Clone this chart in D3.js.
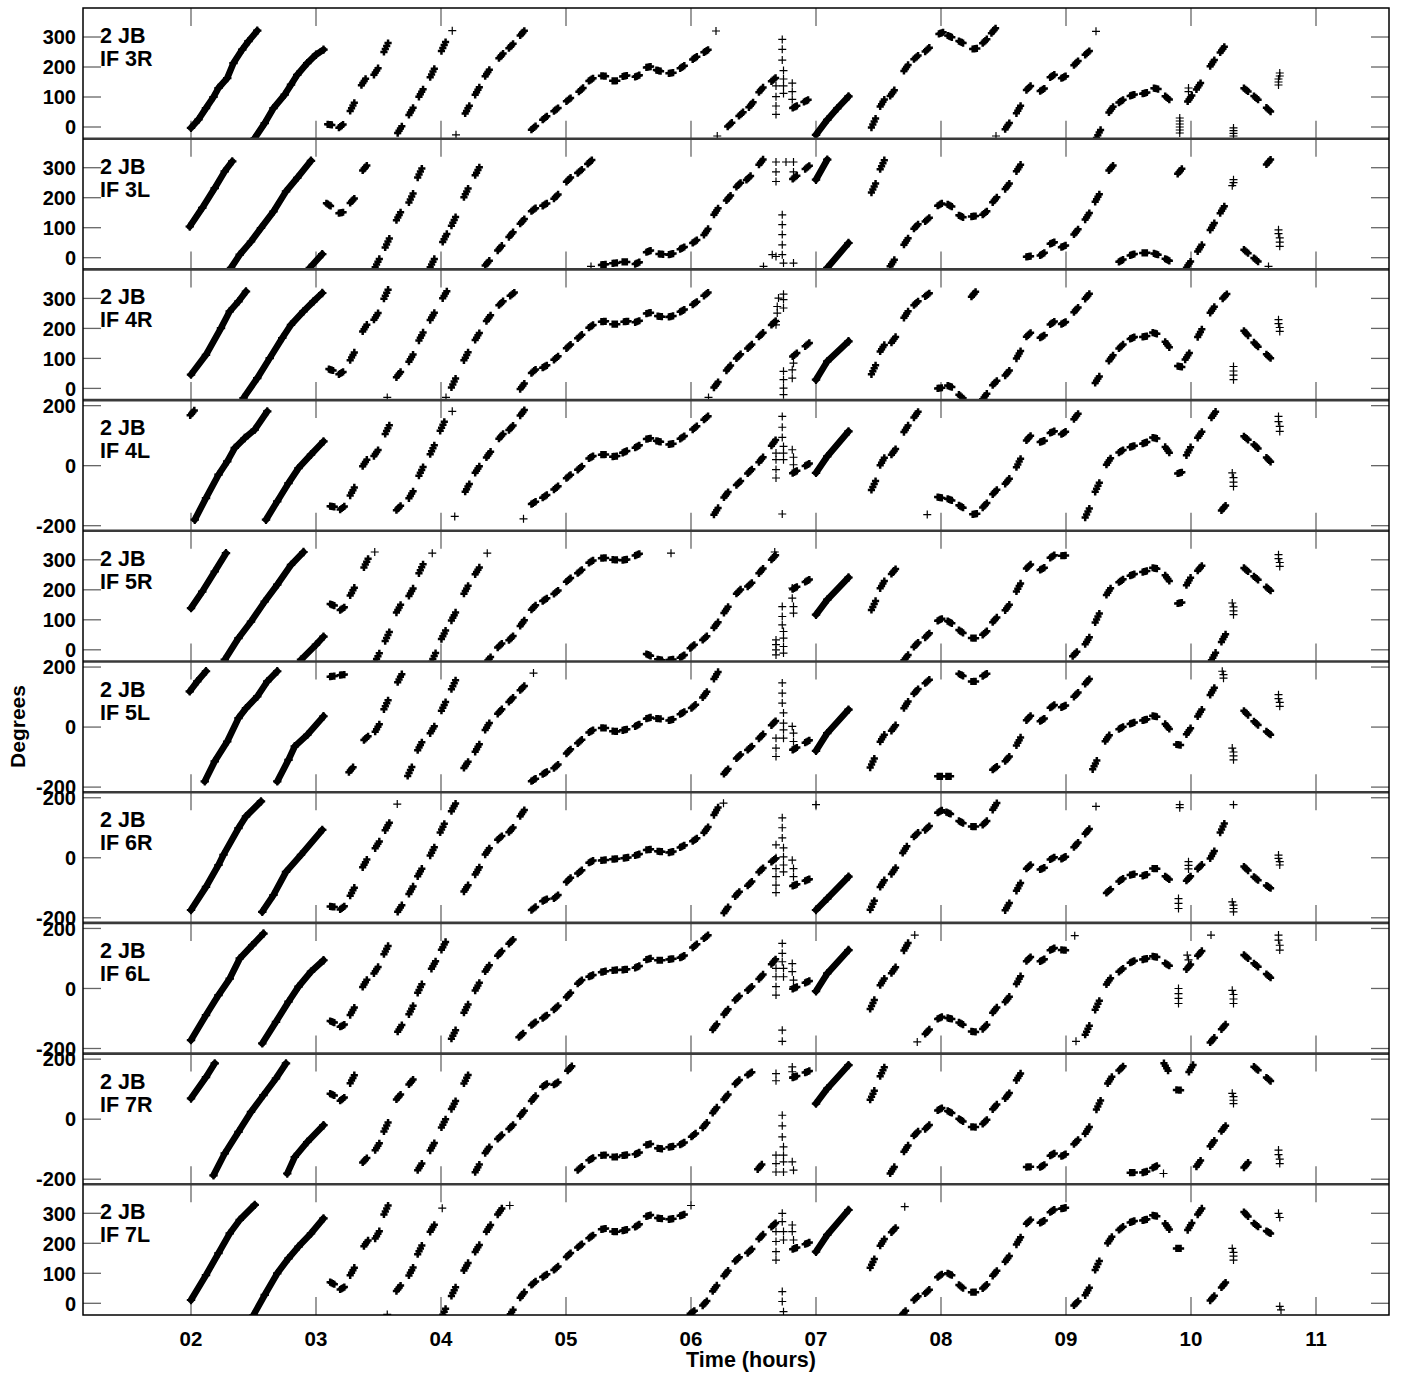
<!DOCTYPE html>
<html>
<head>
<meta charset="utf-8">
<script src="https://cdn.jsdelivr.net/npm/d3@7"></script>
<style>
  body { margin: 0; background: #fff; }
  text { font-family: "Liberation Sans", Arial, Helvetica, sans-serif; font-weight: bold; fill: #000; }
</style>
</head>
<body>
<svg id="chart" width="1401" height="1373"></svg>
<script>

// hour ticks + y ticks
var hourTicks = [2, 3, 4, 5, 6, 7, 8, 9, 10, 11];
var ticks360 = [0, 100, 200, 300];
var ticks180 = [-200, 0, 200];

// ---- IF 3R ----
var dense3R = [
  [[2.00,-3],[2.06,25],[2.12,63],[2.18,100],[2.22,130],[2.29,163],[2.34,213],[2.41,258],[2.46,286],[2.53,321]],
  [[2.51,-37],[2.59,13],[2.66,63],[2.75,108],[2.80,141],[2.85,174],[2.93,213],[3.00,241],[3.06,258]],
  [[7.00,-26],[7.09,24],[7.17,62],[7.26,102]]
];
var scans3R = [[3.11,8],[3.20,3],[3.29,67],[3.38,150],[3.48,185],[3.56,265],
  [3.67,-9],[3.76,52],[3.84,113],[3.93,180],[4.02,268],
  [4.21,58],[4.29,120],[4.37,180],[4.48,237],[4.56,270],[4.65,313],
  [4.74,-3],[4.83,30],[4.92,58],[5.02,91],[5.12,124],[5.20,158],[5.30,170],[5.39,154],[5.47,170],[5.57,170],[5.66,200],[5.74,188],[5.84,180],[5.93,200],[6.03,230],[6.12,253],
  [6.31,8],[6.40,43],[6.48,74],[6.56,124],[6.66,158],[6.83,67],[6.92,87],
  [7.46,13],[7.53,80],[7.61,113],[7.72,197],[7.80,232],[7.89,258],[8.00,313],[8.07,302],[8.16,283],[8.27,261],[8.35,286],[8.42,321],
  [8.53,3],[8.62,58],[8.70,130],[8.81,124],[8.89,170],[8.98,166],[9.08,213],[9.17,247],
  [9.26,-23],[9.36,58],[9.44,86],[9.53,106],[9.63,113],[9.72,128],[9.81,97],
  [9.99,95],[10.06,136],[10.17,213],[10.25,258],[10.44,124],[10.52,97],[10.62,58]];
var singles3R = [[4.09,321],[4.12,-26],[6.20,320],[6.21,-30],
  [6.68,137],[6.68,101],[6.68,70],[6.68,42],
  [6.73,292],[6.73,259],[6.73,223],[6.74,188],[6.74,160],[6.74,137],[6.74,112],
  [6.81,146],[6.81,118],[6.81,92],[8.44,-30],[9.24,319],
  [9.91,30],[9.91,20],[9.91,10],[9.91,0],[9.91,-10],[9.91,-20],[9.98,130],[9.98,118],
  [10.34,-3],[10.34,-12],[10.34,-21],[10.34,-30],
  [10.70,140],[10.70,150],[10.70,160],[10.71,170],[10.71,180]];

// ---- IF 3L ----
var dense3L = [
  [[1.99,104],[2.09,166],[2.19,232],[2.27,288],[2.33,321]],
  [[2.32,-34],[2.39,10],[2.48,54],[2.56,99],[2.66,154],[2.76,221],[2.85,266],[2.96,323]],
  [[2.95,-34],[3.05,12]],
  [[7.00,260],[7.09,327]],
  [[7.09,-34],[7.26,49]]
];
var scans3L = [[3.10,177],[3.20,150],[3.29,190],[3.39,299],
  [3.49,-18],[3.57,49],[3.66,138],[3.76,199],[3.83,282],
  [3.93,-18],[4.03,66],[4.10,121],[4.20,216],[4.29,288],
  [4.37,-18],[4.47,32],[4.56,77],[4.65,121],[4.74,160],[4.83,177],[4.92,204],[5.02,260],[5.11,288],[5.19,319],
  [5.30,-23],[5.39,-18],[5.47,-14],[5.57,-18],[5.66,21],[5.76,12],[5.84,12],[5.93,32],[6.03,54],[6.12,86],[6.20,154],[6.30,199],[6.38,243],[6.46,266],[6.56,319],
  [6.83,268],[6.93,301],[7.46,232],[7.53,310],
  [7.61,-18],[7.72,54],[7.80,104],[7.89,127],[7.99,177],[8.07,174],[8.16,138],[8.26,138],[8.35,149],[8.43,193],[8.53,238],[8.62,299],
  [8.70,4],[8.81,12],[8.89,49],[8.98,38],[9.08,86],[9.17,138],[9.25,199],[9.36,299],
  [9.44,-10],[9.53,10],[9.63,16],[9.72,12],[9.81,-7],
  [9.91,288],[9.98,-23],[10.07,32],[10.17,104],[10.25,160],[10.44,21],[10.52,-7],[10.62,319]];
var singles3L = [[5.20,-29],[6.68,319],[6.76,319],[6.82,319],[6.68,286],[6.82,286],[6.68,254],
  [6.58,-29],[6.65,10],[6.68,4],
  [6.73,143],[6.73,110],[6.73,77],[6.73,43],[6.73,10],[6.74,-18],[6.82,-18],
  [10.33,240],[10.34,250],[10.34,260],[10.62,-29],
  [10.70,93],[10.70,80],[10.71,66],[10.71,52],[10.71,38]];

// ---- IF 4R ----
var dense4R = [
  [[2.00,46],[2.12,112],[2.24,201],[2.31,257],[2.38,290],[2.44,323]],
  [[2.42,-32],[2.53,34],[2.63,101],[2.73,168],[2.80,212],[2.90,257],[2.98,290],[3.05,318]],
  [[7.00,29],[7.09,90],[7.26,157]]
];
var scans4R = [[3.12,62],[3.20,51],[3.29,107],[3.39,201],[3.48,240],[3.56,314],
  [3.66,46],[3.76,101],[3.84,173],[3.93,240],[4.03,312],
  [4.10,18],[4.20,107],[4.29,173],[4.38,234],[4.48,284],[4.57,314],
  [4.65,7],[4.74,57],[4.83,73],[4.92,101],[5.02,140],[5.11,173],[5.20,207],[5.30,223],[5.39,214],[5.48,223],[5.57,223],[5.66,251],[5.75,240],[5.84,240],[5.93,259],[6.03,284],[6.12,314],
  [6.20,12],[6.30,68],[6.38,107],[6.47,140],[6.56,179],[6.66,218],[6.83,112],[6.93,146],
  [7.46,62],[7.53,134],[7.62,162],[7.72,246],[7.80,284],[7.89,312],
  [7.99,1],[8.07,7],[8.16,-27],[8.26,314],[8.35,-27],[8.43,18],[8.53,51],[8.62,112],[8.70,179],[8.81,173],[8.89,218],[8.98,218],[9.08,262],[9.17,307],
  [9.25,29],[9.36,101],[9.44,140],[9.53,168],[9.63,173],[9.71,184],[9.81,146],[9.91,73],[9.97,107],[10.07,184],[10.17,262],[10.27,307],
  [10.44,184],[10.52,146],[10.62,107]];
var singles4R = [[3.57,-30],[4.04,-30],[6.14,-30],
  [6.68,212],[6.68,223],[6.69,251],[6.69,273],[6.70,301],[6.74,314],[6.74,296],[6.74,268],
  [6.74,-21],[6.74,1],[6.74,29],[6.74,57],[6.81,34],[6.81,62],[6.82,84],
  [10.34,73],[10.34,58],[10.34,44],[10.34,29],
  [10.70,229],[10.70,216],[10.71,203],[10.71,190]];

// ---- IF 4L ----
var dense4L = [
  [[2.03,-180],[2.12,-108],[2.22,-30],[2.29,14],[2.35,59],[2.43,92],[2.51,120],[2.61,181]],
  [[2.60,-180],[2.69,-119],[2.78,-58],[2.86,-8],[2.96,37],[3.06,81]],
  [[7.00,-24],[7.09,31],[7.26,114]]
];
var scans4L = [[2.01,176],
  [3.13,-136],[3.21,-141],[3.29,-86],[3.39,9],[3.48,42],[3.57,120],
  [3.66,-141],[3.76,-97],[3.84,-19],[3.93,53],[4.01,131],
  [4.21,-74],[4.29,-13],[4.38,37],[4.48,98],[4.56,126],[4.65,176],
  [4.74,-124],[4.83,-102],[4.92,-74],[5.02,-36],[5.11,-8],[5.20,28],[5.30,37],[5.39,31],[5.47,46],[5.57,64],[5.66,90],[5.74,81],[5.84,72],[5.93,94],[6.03,126],[6.12,159],
  [6.20,-152],[6.28,-97],[6.38,-58],[6.47,-19],[6.56,20],[6.66,76],[6.83,-21],[6.93,3],
  [7.46,-66],[7.53,14],[7.62,46],[7.72,123],[7.80,170],
  [7.99,-106],[8.07,-113],[8.16,-136],[8.27,-161],[8.35,-132],[8.43,-88],[8.53,-52],[8.62,9],[8.70,92],[8.81,81],[8.89,112],[8.98,109],[9.08,164],
  [9.17,-158],[9.25,-72],[9.34,14],[9.44,48],[9.53,64],[9.63,76],[9.71,92],[9.81,53],[9.91,-24],[9.98,48],[10.07,103],[10.18,170],
  [10.26,-141],[10.44,92],[10.52,64],[10.62,20]];
var singles4L = [[4.09,181],[4.11,-169],[4.66,-177],
  [6.68,42],[6.68,20],[6.68,-13],[6.68,-41],
  [6.73,164],[6.73,128],[6.73,94],[6.74,64],[6.74,42],[6.74,20],
  [6.81,53],[6.82,28],[6.82,3],[6.73,-161],[7.89,-163],
  [10.33,-24],[10.34,-40],[10.34,-55],[10.34,-69],
  [10.70,164],[10.70,147],[10.71,131],[10.71,114]];

// ---- IF 5R ----
var dense5R = [
  [[2.00,139],[2.09,194],[2.19,261],[2.28,322]],
  [[2.27,-33],[2.38,39],[2.48,94],[2.59,161],[2.69,217],[2.80,283],[2.90,326]],
  [[2.88,-33],[3.00,17],[3.06,44]],
  [[7.00,117],[7.09,167],[7.26,241]]
];
var scans5R = [[3.13,150],[3.21,137],[3.29,194],[3.40,289],
  [3.49,-26],[3.57,44],[3.66,137],[3.76,192],[3.84,270],
  [3.94,-26],[4.02,50],[4.10,111],[4.20,200],[4.29,263],
  [4.38,-33],[4.47,14],[4.56,39],[4.65,89],[4.74,141],[4.83,167],[4.92,192],[5.02,233],[5.11,261],[5.20,294],[5.30,306],[5.39,300],[5.47,300],[5.57,317],
  [5.66,-17],[5.75,-33],[5.84,-33],[5.93,-22],[6.01,11],[6.11,39],[6.20,83],[6.28,133],[6.38,194],[6.47,217],[6.56,263],[6.66,308],
  [6.83,206],[6.93,230],[7.46,148],[7.53,217],[7.62,261],
  [7.72,-26],[7.80,17],[7.89,48],[7.99,100],[8.07,92],[8.16,61],[8.26,39],[8.35,56],[8.43,100],[8.53,141],[8.62,208],[8.70,278],[8.81,270],[8.89,311],[8.98,314],
  [9.07,-14],[9.17,30],[9.25,106],[9.34,194],[9.44,230],[9.53,250],[9.63,261],[9.71,272],[9.81,239],[9.91,156],[9.98,228],[10.07,272],
  [10.18,-22],[10.26,39],[10.44,267],[10.52,239],[10.62,203]];
var singles5R = [[3.47,326],[3.93,322],[4.37,322],[5.84,322],[6.67,326],
  [6.68,33],[6.68,17],[6.68,0],[6.68,-17],
  [6.73,144],[6.73,111],[6.73,83],[6.74,61],[6.74,39],[6.74,11],[6.74,-11],
  [6.81,206],[6.81,172],[6.82,144],[6.82,122],
  [10.33,156],[10.34,143],[10.34,130],[10.34,117],
  [10.70,317],[10.70,304],[10.71,291],[10.71,278]];

// ---- IF 5L ----
var dense5L = [
  [[1.99,119],[2.05,152],[2.12,186]],
  [[2.11,-181],[2.19,-114],[2.29,-48],[2.38,30],[2.44,63],[2.53,102],[2.61,152],[2.69,186]],
  [[2.69,-181],[2.78,-109],[2.83,-64],[2.93,-26],[3.06,36]],
  [[7.00,-79],[7.09,-20],[7.26,58]]
];
var scans5L = [[3.13,169],[3.21,174],[3.28,-142],[3.40,-37],[3.49,-3],[3.56,74],[3.67,163],
  [3.75,-148],[3.83,-64],[3.93,-9],[4.02,69],[4.10,141],
  [4.20,-126],[4.29,-70],[4.37,2],[4.47,52],[4.56,91],[4.65,130],
  [4.74,-176],[4.83,-153],[4.92,-131],[5.02,-81],[5.11,-48],[5.20,-14],[5.30,-3],[5.39,-14],[5.47,-9],[5.57,6],[5.66,30],[5.74,28],[5.84,24],[5.93,47],[6.02,69],[6.11,108],[6.20,172],
  [6.28,-148],[6.38,-98],[6.47,-70],[6.56,-31],[6.66,13],[6.83,-72],[6.93,-48],
  [7.45,-120],[7.53,-37],[7.62,-3],[7.72,74],[7.80,119],[7.89,152],
  [7.99,-164],[8.06,-164],[8.16,174],[8.26,152],[8.35,174],
  [8.43,-137],[8.53,-106],[8.62,-48],[8.70,30],[8.81,24],[8.89,69],[8.98,69],[9.08,108],[9.17,152],
  [9.23,-126],[9.33,-37],[9.44,-3],[9.53,13],[9.63,24],[9.71,36],[9.81,2],[9.90,-59],[9.98,-14],[10.07,47],[10.17,119],
  [10.44,47],[10.52,13],[10.62,-20]];
var singles5L = [[4.74,180],
  [6.68,-37],[6.68,-70],[6.68,-98],
  [6.73,147],[6.73,113],[6.73,80],[6.74,47],[6.74,13],[6.74,-9],[6.74,-37],
  [6.81,2],[6.82,-20],[6.82,-48],
  [10.25,186],[10.26,175],[10.26,163],
  [10.33,-70],[10.34,-83],[10.34,-96],[10.34,-109],
  [10.70,108],[10.70,95],[10.71,82],[10.71,69]];

// ---- IF 6R ----
var dense6R = [
  [[2.00,-174],[2.12,-97],[2.22,-24],[2.26,10],[2.38,99],[2.44,138],[2.56,188]],
  [[2.57,-180],[2.66,-124],[2.76,-47],[2.88,10],[3.05,93]],
  [[7.00,-174],[7.09,-136],[7.26,-63]]
];
var scans6R = [[3.13,-163],[3.21,-167],[3.29,-113],[3.39,-19],[3.49,43],[3.57,104],
  [3.67,-169],[3.76,-108],[3.83,-49],[3.93,21],[4.01,99],[4.10,168],
  [4.20,-102],[4.29,-44],[4.37,21],[4.47,66],[4.56,93],[4.65,149],
  [4.74,-169],[4.83,-141],[4.92,-130],[5.02,-74],[5.11,-47],[5.20,-13],[5.30,-8],[5.39,-4],[5.48,0],[5.57,10],[5.66,27],[5.75,21],[5.84,19],[5.93,38],[6.03,60],[6.12,93],[6.20,155],
  [6.28,-174],[6.37,-121],[6.47,-86],[6.56,-41],[6.66,-8],[6.83,-91],[6.93,-74],
  [7.45,-158],[7.53,-86],[7.62,-44],
  [7.71,27],[7.80,77],[7.89,99],[7.99,154],[8.06,149],[8.16,119],[8.26,104],[8.35,116],[8.43,171],
  [8.53,-163],[8.62,-97],[8.70,-30],[8.81,-36],[8.89,-2],[8.98,0],[9.08,43],[9.17,88],
  [9.34,-111],[9.44,-74],[9.53,-56],[9.63,-58],[9.71,-36],[9.81,-67],[9.98,-69],[10.07,-30],[10.17,10],[10.25,99],
  [10.44,-36],[10.52,-69],[10.62,-97]];
var singles6R = [[3.65,179],[6.26,182],[7.00,177],[9.24,171],
  [6.68,43],[6.68,0],[6.68,-36],[6.68,-63],[6.68,-91],[6.68,-116],
  [6.73,133],[6.73,100],[6.73,66],[6.74,33],[6.74,3],[6.74,-24],[6.74,-47],
  [6.81,-8],[6.82,-36],[6.82,-63],
  [9.90,-136],[9.90,-152],[9.90,-169],[9.91,177],[9.91,167],
  [9.98,-13],[9.98,-25],[9.98,-37],[10.34,177],
  [10.33,-147],[10.34,-158],[10.34,-169],[10.34,-180],
  [10.70,9],[10.70,-2],[10.71,-13],[10.71,-24]];

// ---- IF 6L ----
var dense6L = [
  [[2.00,-172],[2.12,-89],[2.22,-22],[2.31,33],[2.39,100],[2.49,144],[2.58,183]],
  [[2.57,-183],[2.68,-111],[2.78,-44],[2.86,6],[2.96,56],[3.06,94]],
  [[7.00,-9],[7.09,50],[7.26,128]]
];
var scans6L = [[3.13,-111],[3.21,-124],[3.29,-76],[3.39,17],[3.48,61],[3.56,128],
  [3.67,-133],[3.76,-72],[3.83,0],[3.94,78],[4.02,142],
  [4.10,-153],[4.20,-67],[4.29,6],[4.37,67],[4.47,117],[4.56,156],
  [4.64,-156],[4.74,-117],[4.83,-94],[4.92,-64],[5.02,-22],[5.11,22],[5.20,42],[5.30,56],[5.39,61],[5.47,63],[5.57,72],[5.66,98],[5.75,94],[5.84,98],[5.93,106],[6.03,142],[6.12,172],
  [6.19,-128],[6.28,-78],[6.37,-32],[6.47,0],[6.56,39],[6.66,89],[6.83,2],[6.93,22],
  [7.45,-53],[7.53,22],[7.62,61],[7.72,139],
  [7.89,-144],[7.99,-98],[8.07,-100],[8.16,-117],[8.26,-144],[8.35,-128],[8.43,-72],[8.53,-36],[8.62,28],[8.70,98],[8.81,94],[8.89,131],[8.98,128],
  [9.17,-139],[9.25,-56],[9.34,24],[9.44,61],[9.53,89],[9.63,98],[9.71,106],[9.81,80],[9.98,72],[10.07,117],
  [10.17,-172],[10.26,-128],[10.44,106],[10.52,78],[10.62,42]];
var singles6L = [[7.79,178],[7.81,-178],[9.07,176],[9.08,-176],[10.16,178],
  [6.68,67],[6.68,39],[6.68,6],[6.68,-22],
  [6.73,150],[6.73,117],[6.73,89],[6.74,67],[6.74,39],
  [6.81,83],[6.81,56],[6.82,28],[6.82,6],[6.73,-139],[6.73,-176],
  [9.97,111],[9.98,95],[9.90,0],[9.90,-17],[9.90,-33],[9.90,-50],
  [10.33,-6],[10.34,-20],[10.34,-35],[10.34,-50],
  [10.70,178],[10.70,161],[10.71,144],[10.71,128]];

// ---- IF 7R ----
var dense7R = [
  [[2.00,69],[2.12,140],[2.19,186]],
  [[2.18,-187],[2.27,-114],[2.38,-42],[2.48,24],[2.58,80],[2.68,136],[2.76,186]],
  [[2.77,-181],[2.83,-126],[2.93,-76],[3.06,-20]],
  [[7.00,52],[7.09,102],[7.26,180]]
];
var scans7R = [[3.13,82],[3.21,67],[3.29,133],
  [3.39,-137],[3.49,-92],[3.56,-26],[3.66,74],[3.76,124],
  [3.83,-159],[3.93,-92],[4.02,-14],[4.10,47],[4.20,133],
  [4.29,-164],[4.37,-103],[4.47,-59],[4.56,-26],[4.65,19],[4.74,69],[4.83,113],[4.92,119],[5.03,169],
  [5.11,-164],[5.20,-133],[5.30,-120],[5.39,-126],[5.47,-120],[5.57,-114],[5.66,-84],[5.75,-98],[5.84,-92],[5.93,-81],[6.02,-53],[6.11,-20],[6.19,30],[6.28,74],[6.37,124],[6.47,152],
  [6.55,-159],[6.83,141],[6.93,158],[7.45,80],[7.53,158],
  [7.61,-170],[7.72,-98],[7.80,-48],[7.89,-26],[7.99,33],[8.07,24],[8.16,-3],[8.26,-26],[8.35,-9],[8.43,41],[8.53,78],[8.62,141],
  [8.70,-159],[8.81,-156],[8.89,-118],[8.98,-120],[9.08,-76],[9.17,-37],[9.26,47],[9.35,130],[9.44,169],
  [9.53,-178],[9.63,-176],[9.71,-159],
  [9.80,174],[9.90,97],[10.00,169],
  [10.06,-148],[10.17,-81],[10.26,-31],[10.44,-153],[10.52,169],[10.62,133]];
var singles7R = [[9.78,-181],
  [6.68,152],[6.68,128],[6.68,-120],[6.68,-148],[6.68,-176],
  [6.73,13],[6.73,-22],[6.73,-59],[6.74,-92],[6.74,-120],[6.74,-142],[6.74,-176],
  [6.81,174],[6.81,158],[6.82,141],[6.81,-142],[6.82,-170],
  [10.33,86],[10.34,75],[10.34,63],[10.34,52],
  [10.70,-103],[10.70,-118],[10.71,-133],[10.71,-148]];

// ---- IF 7L ----
var dense7L = [
  [[2.00,11],[2.12,94],[2.22,167],[2.31,233],[2.39,278],[2.51,328]],
  [[2.50,-39],[2.59,28],[2.69,100],[2.78,150],[2.86,189],[2.96,233],[3.06,283]],
  [[7.00,172],[7.09,228],[7.26,311]]
];
var scans7L = [[3.13,67],[3.21,50],[3.29,106],[3.40,200],[3.49,228],[3.56,311],
  [3.66,50],[3.76,106],[3.83,178],[3.93,250],
  [4.02,-33],[4.10,39],[4.20,122],[4.29,183],[4.38,250],[4.47,306],
  [4.56,-33],[4.65,28],[4.74,67],[4.83,92],[4.92,117],[5.02,161],[5.11,192],[5.20,222],[5.30,248],[5.39,239],[5.47,244],[5.57,259],[5.66,292],[5.75,283],[5.84,281],[5.93,294],
  [6.01,-30],[6.11,0],[6.19,50],[6.28,100],[6.37,147],[6.47,174],[6.56,222],[6.66,261],
  [6.83,183],[6.93,200],[7.45,133],[7.53,203],[7.62,244],
  [7.70,-33],[7.80,17],[7.89,39],[7.99,92],[8.07,97],[8.16,56],[8.26,37],[8.35,56],[8.43,100],[8.53,148],[8.62,208],[8.70,272],[8.81,272],[8.89,308],[8.98,317],
  [9.08,0],[9.17,39],[9.25,126],[9.35,211],[9.44,250],[9.53,272],[9.63,278],[9.71,292],[9.81,256],[9.90,183],[9.99,256],[10.07,306],
  [10.17,17],[10.26,61],[10.44,297],[10.52,261],[10.62,237]];
var singles7L = [[3.57,-37],[4.01,317],[4.55,326],[6.00,326],[7.71,322],
  [6.68,239],[6.68,206],[6.68,172],[6.68,144],
  [6.73,300],[6.73,272],[6.74,239],[6.74,211],
  [6.81,261],[6.81,239],[6.82,211],
  [6.73,39],[6.73,6],[6.74,-28],
  [10.33,183],[10.34,170],[10.34,157],[10.34,144],
  [10.70,300],[10.71,286],[10.71,-10],[10.72,-22]];

var panels = [
  {name: "IF 3R", range: 360, dense: dense3R, scans: scans3R, singles: singles3R},
  {name: "IF 3L", range: 360, dense: dense3L, scans: scans3L, singles: singles3L},
  {name: "IF 4R", range: 360, dense: dense4R, scans: scans4R, singles: singles4R},
  {name: "IF 4L", range: 180, dense: dense4L, scans: scans4L, singles: singles4L},
  {name: "IF 5R", range: 360, dense: dense5R, scans: scans5R, singles: singles5R},
  {name: "IF 5L", range: 180, dense: dense5L, scans: scans5L, singles: singles5L},
  {name: "IF 6R", range: 180, dense: dense6R, scans: scans6R, singles: singles6R},
  {name: "IF 6L", range: 180, dense: dense6L, scans: scans6L, singles: singles6L},
  {name: "IF 7R", range: 180, dense: dense7R, scans: scans7R, singles: singles7R},
  {name: "IF 7L", range: 360, dense: dense7L, scans: scans7L, singles: singles7L}
];

// geometry
var left = 83, right = 1389, top0 = 8, panelH = 130.7;
var tickLen = 18;
var svg = d3.select("#chart");

var x = d3.scaleLinear().domain([1.136, 11.584]).range([left, right]);

function crossPath(px, py, a) {
  return "M" + (px - a) + "," + py + "h" + (2 * a) + "M" + px + "," + (py - a) + "v" + (2 * a);
}

// local phase rate of each scan (deg/hour), from its neighbours -> only used to tilt the glyph
function scanRates(arr) {
  return arr.map(function(d, i) {
    var r = [];
    [arr[i - 1], arr[i + 1]].forEach(function(n) {
      if (n && Math.abs(n[0] - d[0]) < 0.14 && Math.abs(n[1] - d[1]) < 100)
        r.push((n[1] - d[1]) / (n[0] - d[0]));
    });
    return r.length ? d3.mean(r) : 500;
  });
}

var defs = svg.append("defs");

panels.forEach(function(p, i) {
  var ptop = top0 + i * panelH;
  var y = d3.scaleLinear()
      .domain(p.range == 360 ? [-39, 396.7] : [-217, 218.5])
      .range([ptop + panelH, ptop]);

  defs.append("clipPath").attr("id", "clip" + i)
    .append("rect").attr("x", left).attr("y", ptop).attr("width", right - left).attr("height", panelH);

  var g = svg.append("g").attr("class", "panel");

  // x ticks top + bottom
  g.selectAll("line.xt").data(hourTicks).join("line")
      .attr("x1", d => x(d)).attr("x2", d => x(d))
      .attr("y1", ptop).attr("y2", ptop + tickLen)
      .attr("stroke", "#666").attr("stroke-width", 1.3);
  g.selectAll("line.xb").data(hourTicks).enter().append("line")
      .attr("x1", d => x(d)).attr("x2", d => x(d))
      .attr("y1", ptop + panelH - tickLen).attr("y2", ptop + panelH)
      .attr("stroke", "#666").attr("stroke-width", 1.3);

  var yt = p.range == 360 ? ticks360 : ticks180;
  g.selectAll("line.yl").data(yt).enter().append("line")
      .attr("x1", left).attr("x2", left + tickLen)
      .attr("y1", d => y(d)).attr("y2", d => y(d))
      .attr("stroke", "#666").attr("stroke-width", 1.3);
  g.selectAll("line.yr").data(yt).enter().append("line")
      .attr("x1", right - tickLen).attr("x2", right)
      .attr("y1", d => y(d)).attr("y2", d => y(d))
      .attr("stroke", "#666").attr("stroke-width", 1.3);
  g.selectAll("text.ytl").data(yt).enter().append("text")
      .attr("x", 76).attr("y", d => y(d)).attr("dy", "0.36em")
      .attr("text-anchor", "end").attr("font-size", 20)
      .text(d => d);

  // panel label
  g.append("text").attr("x", 100).attr("y", ptop + 35).attr("font-size", 21.5).text("2 JB");
  g.append("text").attr("x", 100).attr("y", ptop + 58).attr("font-size", 21.5).text(p.name);

  var pts = g.append("g").attr("clip-path", "url(#clip" + i + ")");

  // dense (continuous) scans
  var line = d3.line().x(d => x(d[0])).y(d => y(d[1]));
  pts.selectAll("path.dense").data(p.dense).enter().append("path")
      .attr("d", line)
      .attr("fill", "none").attr("stroke", "#000")
      .attr("stroke-width", 6.5).attr("stroke-linecap", "round").attr("stroke-linejoin", "round");
  pts.selectAll("path.dpt").data(p.dense.flat()).enter().append("path")
      .attr("d", d => crossPath(x(d[0]), y(d[1]), 4.2))
      .attr("stroke", "#000").attr("stroke-width", 2.2);

  // scan averages: short dash of crosses tilted with the local phase rate
  var rates = scanRates(p.scans);
  pts.selectAll("path.scan").data(p.scans).enter().append("path")
      .attr("d", function(d, j) {
        var dt = 0.011, dp = Math.max(-10, Math.min(10, rates[j] * dt));
        return [-1.5, -0.5, 0.5, 1.5].map(k => crossPath(x(d[0] + k * dt), y(d[1] + k * dp), 3.6)).join("");
      })
      .attr("stroke", "#000").attr("stroke-width", 2.5);

  // single samples
  pts.selectAll("path.single").data(p.singles).enter().append("path")
      .attr("d", d => crossPath(x(d[0]), y(d[1]), 4))
      .attr("stroke", "#000").attr("stroke-width", 1.2);
});

// panel separators + frame
var seps = d3.range(1, panels.length);
svg.selectAll("line.sep").data(seps).enter().append("line")
    .attr("x1", left).attr("x2", right)
    .attr("y1", d => top0 + d * panelH).attr("y2", d => top0 + d * panelH)
    .attr("stroke", "#3a3a3a").attr("stroke-width", 2.6);
svg.append("rect")
    .attr("x", left).attr("y", top0)
    .attr("width", right - left).attr("height", panelH * panels.length)
    .attr("fill", "none").attr("stroke", "#000").attr("stroke-width", 1.5);

// bottom axis labels
var bottom = top0 + panelH * panels.length;
svg.selectAll("text.xl").data(hourTicks).enter().append("text")
    .attr("x", d => x(d)).attr("y", bottom + 31)
    .attr("text-anchor", "middle").attr("font-size", 20.5)
    .text(d => d3.format("02d")(d));

svg.append("text").attr("x", 751).attr("y", bottom + 52)
    .attr("text-anchor", "middle").attr("font-size", 21.5).text("Time (hours)");
svg.append("text")
    .attr("transform", "translate(25," + (top0 + panelH * panels.length / 2 + 65) + ") rotate(-90)")
    .attr("text-anchor", "middle").attr("font-size", 21).text("Degrees");

</script>
</body>
</html>
